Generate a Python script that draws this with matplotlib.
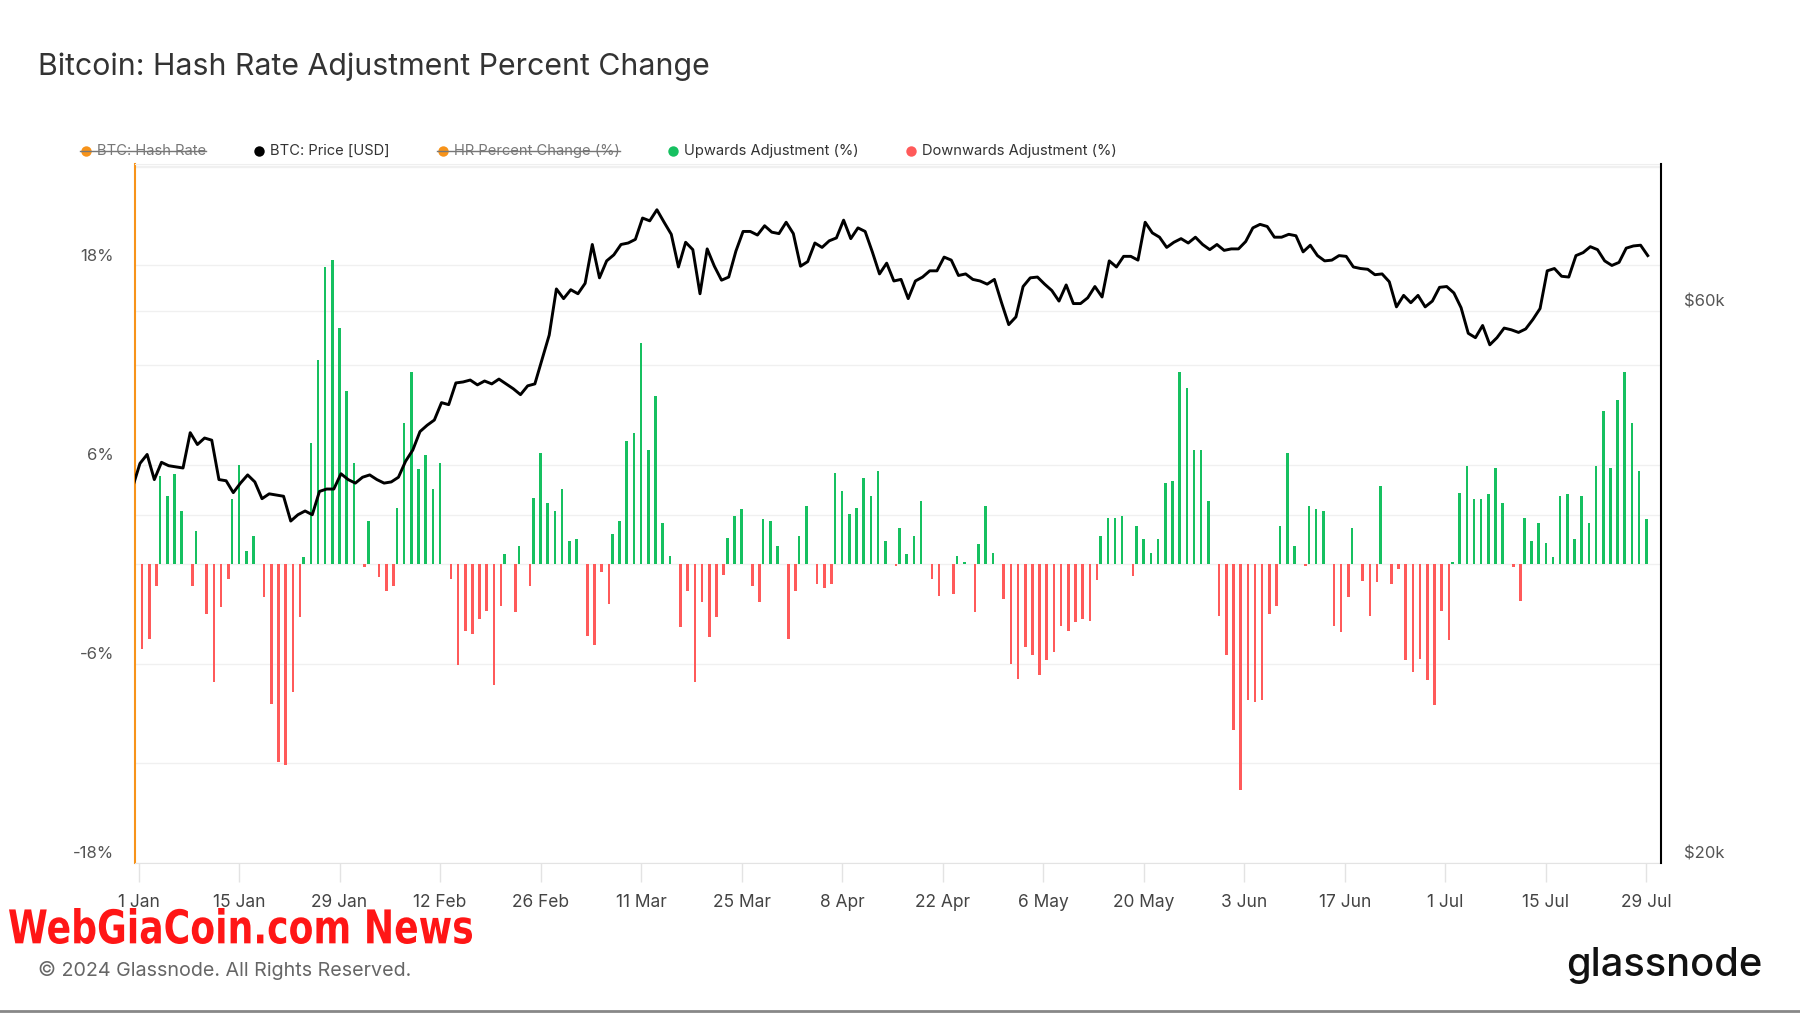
import numpy as np
import pandas as pd
import matplotlib
matplotlib.use('Agg')
import matplotlib.pyplot as plt
import matplotlib.transforms as mtransforms
from matplotlib.lines import Line2D
from matplotlib.textpath import TextPath
from matplotlib.patches import PathPatch
from matplotlib.font_manager import FontProperties
from matplotlib.ticker import NullLocator

plt.rcParams['font.family'] = ['Inter', 'DejaVu Sans']

# daily hash rate adjustment (%), 1 Jan .. 29 Jul 2024
hr_change = [
    -5.1, -4.5, -1.3, 5.3, 4.1, 5.4, 3.2, -1.3, 2.0, -3.0,
    -7.1, -2.6, -0.9, 3.9, 6.0, 0.8, 1.7, -2.0, -8.4, -11.9,
    -12.1, -7.7, -3.2, 0.4, 7.3, 12.3, 17.9, 18.3, 14.2, 10.4,
    6.1, -0.2, 2.6, -0.8, -1.6, -1.3, 3.4, 8.5, 11.6, 5.7,
    6.6, 4.5, 6.1, -0.9, -6.1, -4.0, -4.2, -3.3, -2.8, -7.3,
    -2.5, 0.6, -2.9, 1.1, -1.3, 4.0, 6.7, 3.7, 3.2, 4.5,
    1.4, 1.5, -4.3, -4.9, -0.5, -2.4, 1.8, 2.6, 7.4, 7.9,
    13.3, 6.9, 10.1, 2.5, 0.5, -3.8, -1.6, -7.1, -2.3, -4.4,
    -3.2, -0.65, 1.6, 2.9, 3.3, -1.3, -2.3, 2.7, 2.6, 1.1,
    -4.5, -1.6, 1.7, 3.5, -1.2, -1.45, -1.2, 5.5, 4.4, 3.0,
    3.4, 5.2, 4.1, 5.6, 1.4, -0.1, 2.2, 0.6, 1.7, 3.8,
    -0.9, -1.9, 0.0, -1.8, 0.5, 0.1, -2.9, 1.2, 3.5, 0.7,
    -2.1, -6.0, -6.9, -5.0, -5.5, -6.7, -5.8, -5.3, -3.7, -4.0,
    -3.5, -3.3, -3.4, -0.95, 1.7, 2.8, 2.8, 2.9, -0.7, 2.3,
    1.5, 0.7, 1.5, 4.9, 5.0, 11.6, 10.6, 6.9, 6.9, 3.8,
    -3.1, -5.5, -10.0, -13.6, -8.2, -8.3, -8.2, -3.0, -2.5, 2.3,
    6.7, 1.1, -0.1, 3.5, 3.3, 3.2, -3.7, -4.1, -2.0, 2.2,
    -1.0, -3.1, -1.1, 4.7, -1.2, -0.3, -5.8, -6.5, -5.7, -7.0,
    -8.5, -2.8, -4.6, 0.1, 4.3, 5.9, 3.9, 3.9, 4.2, 5.8,
    3.7, -0.15, -2.2, 2.8, 1.4, 2.5, 1.3, 0.4, 4.1, 4.2,
    1.5, 4.1, 2.5, 5.9, 9.2, 5.8, 9.9, 11.6, 8.5, 5.6,
    2.7,
]

# BTC price in $k, 31 Dec 2023 .. 29 Jul 2024
price_k = [
    42.3,
    44.3, 45.1, 42.9, 44.4, 44.1, 44.0, 43.9, 47.1, 46.0, 46.6,
    46.4, 42.9, 42.8, 41.8, 42.6, 43.3, 42.7, 41.3, 41.7, 41.6,
    41.5, 39.5, 40.0, 40.3, 40.0, 41.9, 42.1, 42.1, 43.4, 42.9, 42.6,
    43.1, 43.3, 42.9, 42.6, 42.7, 43.1, 44.5, 45.5, 47.2, 47.8,
    48.3, 50.0, 49.8, 52.0, 52.1, 52.3, 51.8, 52.2, 51.9, 52.4,
    51.9, 51.4, 50.8, 51.7, 51.9, 54.5, 57.2, 62.7, 61.5,
    62.6, 62.1, 63.4, 68.5, 64.1, 66.3, 67.1, 68.5, 68.7, 69.2,
    72.2, 71.8, 73.4, 71.6, 69.9, 65.5, 68.8, 67.8, 62.1, 67.9,
    65.6, 63.8, 64.2, 67.6, 70.3, 70.3, 69.8, 71.1, 70.2, 70.0, 71.6,
    70.0, 65.6, 66.2, 68.7, 68.1, 69.0, 69.4, 71.9, 69.3, 70.8,
    70.3, 67.5, 64.6, 66.0, 63.7, 63.9, 61.5, 63.7, 64.2, 65.0,
    65.0, 66.8, 66.4, 64.4, 64.6, 63.9, 63.7, 63.3, 63.9, 61.0,
    58.4, 59.3, 63.0, 64.1, 64.2, 63.3, 62.5, 61.2, 63.2, 60.9,
    60.9, 61.6, 63.0, 61.7, 66.3, 65.5, 66.9, 66.9, 66.4, 71.6,
    70.1, 69.5, 68.1, 68.8, 69.3, 68.7, 69.5, 68.5, 67.8, 68.5, 67.7,
    67.9, 67.9, 68.9, 70.8, 71.3, 71.0, 69.5, 69.5, 69.9, 69.7,
    67.5, 68.4, 67.0, 66.3, 66.4, 67.0, 66.9, 65.5, 65.3, 65.2,
    64.5, 64.6, 63.6, 60.5, 61.9, 61.0, 61.9, 60.5, 61.2, 62.9,
    63.0, 62.2, 60.4, 57.4, 56.9, 58.3, 56.1, 56.9, 58.0, 57.8,
    57.5, 57.9, 59.0, 60.3, 65.0, 65.3, 64.3, 64.2, 67.0, 67.4,
    68.2, 67.8, 66.3, 65.7, 66.1, 68.0, 68.3, 68.4, 67.0,
]

start = pd.Timestamp('2024-01-01')
dates = pd.date_range('2024-01-01', periods=len(hr_change), freq='D')
price_dates = pd.date_range('2023-12-31', periods=len(price_k), freq='D')
tick_dates = pd.date_range('2024-01-01', '2024-07-29', freq='14D')
tick_labels = [f"{d.day} {d.strftime('%b')}" for d in tick_dates]

left_ticks = [-18, -12, -6, 0, 6, 12, 18, 24]
left_labels = ['-18%', '', '-6%', '', '6%', '', '18%', '']
right_ticks = [20000, 40000, 60000, 80000]
right_labels = ['$20k', '', '$60k', '']

legend_names = ['BTC: Hash Rate', 'BTC: Price [USD]', 'HR Percent Change (%)',
                'Upwards Adjustment (%)', 'Downwards Adjustment (%)']
legend_colors = ['#f7931a', '#000000', '#f7931a', '#16c060', '#ff5a5a']
legend_hidden = [True, False, True, False, False]

green = '#16c060'
red = '#ff5a5a'

day = np.array((dates - start).days, dtype=float)
pday = np.array((price_dates - start).days, dtype=float) + 0.2
pct = np.array(hr_change)
price = np.array(price_k) * 1000
up = pct > 0
down = pct < 0

fig = plt.figure(figsize=(18, 10.13), dpi=100)
ax = fig.add_axes([0.075, 0.1481, 0.8478, 0.690])

ax.bar(day[up], pct[up], width=0.36, color=green, zorder=2)
ax.bar(day[down] + 0.5, pct[down], width=0.36, color=red, zorder=2)

ax2 = ax.twinx()
ax2.set_yscale('log')
ax2.plot(pday, price, color='black', lw=2.1, solid_joinstyle='round', zorder=3)
ax2.set_ylim(20000, 80400)
ax2.yaxis.set_major_locator(NullLocator())
ax2.yaxis.set_minor_locator(NullLocator())

ax.set_xlim(-0.49, 212.05)
ax.set_ylim(-18, 24.1)
ax.set_yticks(left_ticks)
ax.set_yticklabels([])
ax.tick_params(axis='y', length=0)
ax.yaxis.grid(True, color='#f0f0f0', lw=1)
ax.set_axisbelow(True)

# price gridlines drawn in the back axes
blend = mtransforms.blended_transform_factory(ax.transAxes, ax2.transData)
for v in right_ticks[1:]:
    ax.add_line(Line2D([0, 1], [v, v], transform=blend, color='#f0f0f0', lw=1, zorder=0.5))

ax.set_xticks((tick_dates - start).days)
ax.set_xticklabels(tick_labels)
ax.tick_params(axis='x', length=14, width=1, color='#e3e3e3', pad=8,
               labelsize=12.5, labelcolor='#444444')

lab_l = mtransforms.blended_transform_factory(ax.transAxes, ax.transData) + \
    mtransforms.ScaledTranslation(-0.21, 0.09, fig.dpi_scale_trans)
for v, l in zip(left_ticks, left_labels):
    if l:
        ax.text(0, v, l, transform=lab_l, ha='right', va='center', fontsize=12, color='#555555')
lab_r = mtransforms.blended_transform_factory(ax2.transAxes, ax2.transData) + \
    mtransforms.ScaledTranslation(0.23, 0.09, fig.dpi_scale_trans)
for v, l in zip(right_ticks, right_labels):
    if l:
        ax2.text(1, v, l, transform=lab_r, ha='left', va='center', fontsize=12, color='#555555')

for s in ['top', 'bottom', 'left', 'right']:
    ax2.spines[s].set_visible(False)
ax2.spines['right'].set_visible(True)
ax2.spines['right'].set_color('black')
ax2.spines['right'].set_linewidth(1.5)
ax.spines['right'].set_visible(False)
ax.spines['left'].set_color('#f7931a')
ax.spines['left'].set_linewidth(1.5)
ax.spines['bottom'].set_color('#e3e3e3')
ax.spines['top'].set_color('#efefef')

fig.text(38 / 1800, 1 - 67 / 1013, 'Bitcoin: Hash Rate Adjustment Percent Change',
         fontsize=21.8, color='#333333', va='center')

# legend row
fig.canvas.draw()
renderer = fig.canvas.get_renderer()
x = 86
ly = 1 - 151 / 1013
for name, c, hidden in zip(legend_names, legend_colors, legend_hidden):
    fig.add_artist(Line2D([x / 1800], [ly], marker='o', markersize=7.5, color=c,
                          markeredgewidth=0, transform=fig.transFigure))
    t = fig.text((x + 11) / 1800, ly, name, fontsize=10.6, va='center',
                 color='#777777' if hidden else '#333333')
    bb = t.get_window_extent(renderer)
    if hidden:
        fig.add_artist(Line2D([(x - 6) / 1800, bb.x1 / 1800], [ly, ly], color='#777777',
                              lw=1, transform=fig.transFigure))
    x = bb.x1 + 53

# watermark, squeezed bold text
fp = FontProperties(family='DejaVu Sans', weight='bold')
tp = TextPath((0, 0), 'WebGiaCoin.com News', size=1, prop=fp)
ext = tp.get_extents()
wtrans = mtransforms.Affine2D().translate(-ext.x0, -ext.y0).scale(4.63 / ext.width, 0.36 / ext.height) \
    .translate(0.09, 0.69) + fig.dpi_scale_trans
fig.add_artist(PathPatch(tp, transform=wtrans, facecolor='#ff1616', edgecolor='none'))

fig.text(38 / 1800, 1 - 970 / 1013, '\u00a9 2024 Glassnode. All Rights Reserved.',
         fontsize=14.2, color='#666666', va='center')
fig.text(1762 / 1800, 1 - 965 / 1013, 'glassnode', fontsize=28.7, color='#111111',
         ha='right', va='center', fontweight='medium')
fig.add_artist(Line2D([0, 1], [0.0015, 0.0015], color='#888888', lw=2, transform=fig.transFigure))

fig.savefig('out.png', dpi=100)
